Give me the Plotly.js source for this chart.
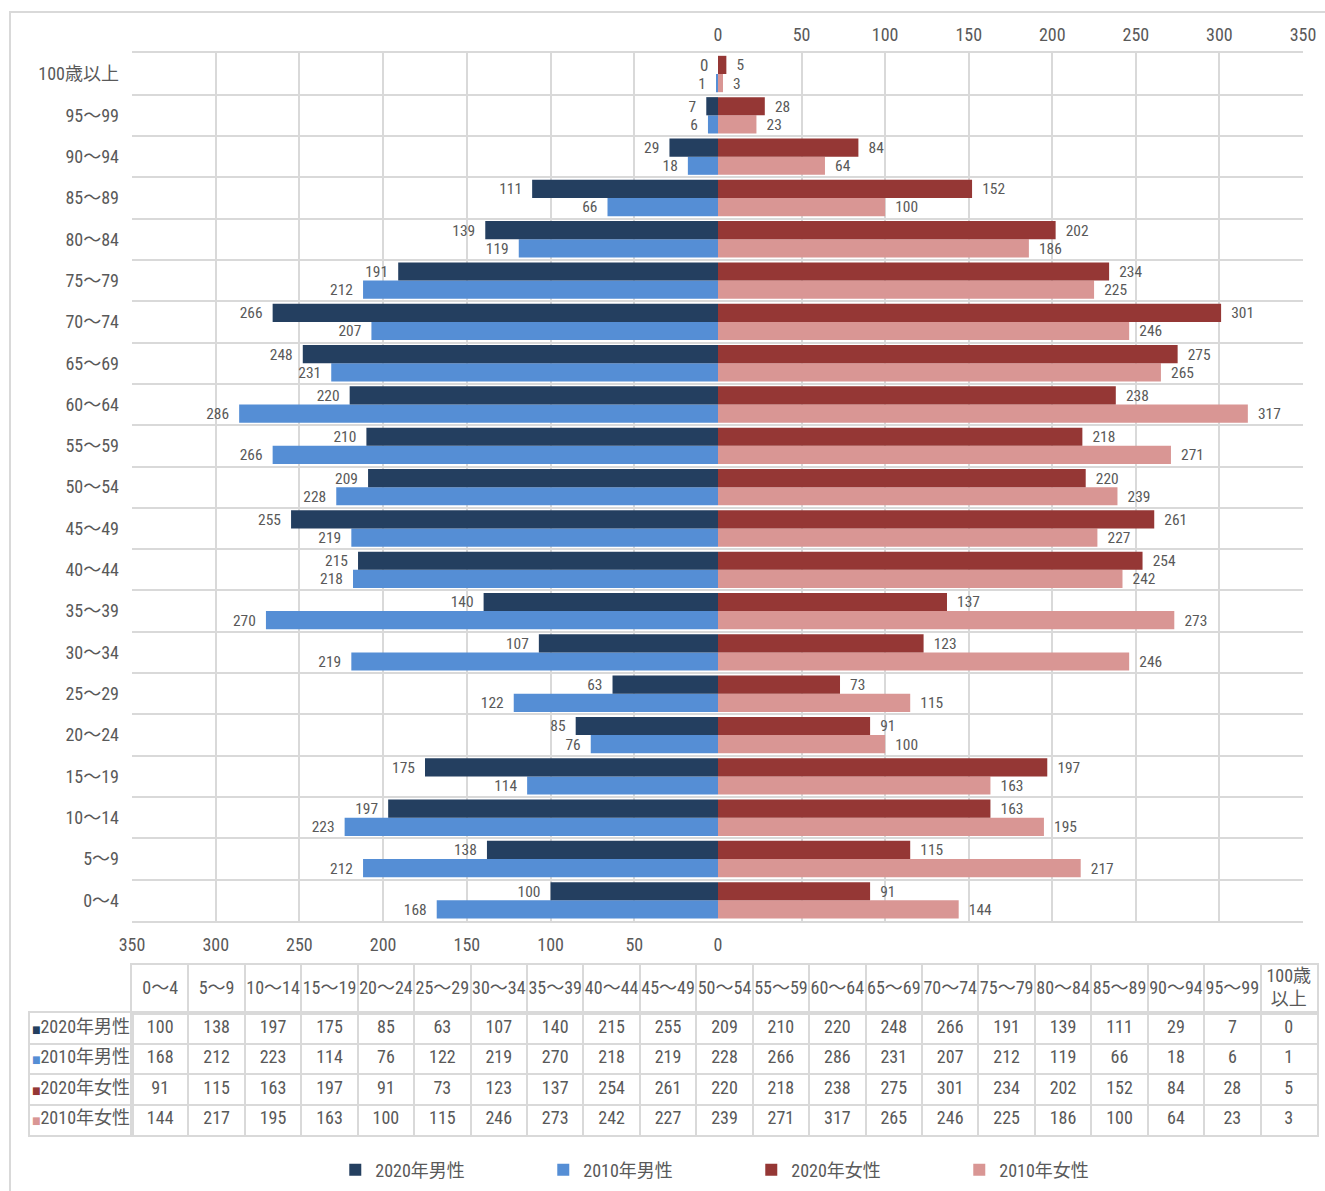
<!DOCTYPE html>
<html><head><meta charset="utf-8">
<script src="https://cdn.plot.ly/plotly-3.0.1.min.js"></script>
<style>body{margin:0;background:#fff}#c{width:1325px;height:1191px} text{font-stretch:condensed !important;}</style>
</head><body><div id="c"></div>
<script>
const categories = ['0～4','5～9','10～14','15～19','20～24','25～29','30～34','35～39','40～44','45～49','50～54','55～59','60～64','65～69','70～74','75～79','80～84','85～89','90～94','95～99','100歳以上'];
const tableHeaders = ['0～4','5～9','10～14','15～19','20～24','25～29','30～34','35～39','40～44','45～49','50～54','55～59','60～64','65～69','70～74','75～79','80～84','85～89','90～94','95～99','100歳<br>以上'];
const male2020   = [100,138,197,175,85,63,107,140,215,255,209,210,220,248,266,191,139,111,29,7,0];
const male2010   = [168,212,223,114,76,122,219,270,218,219,228,266,286,231,207,212,119,66,18,6,1];
const female2020 = [91,115,163,197,91,73,123,137,254,261,220,218,238,275,301,234,202,152,84,28,5];
const female2010 = [144,217,195,163,100,115,246,273,242,227,239,271,317,265,246,225,186,100,64,23,3];
const seriesNames = ['2020年男性','2010年男性','2020年女性','2010年女性'];
const colors = ['#243f60','#558ed5','#953735','#d99694'];

const FONT = '"Roboto Condensed", "Open Sans Condensed", "DejaVu Sans", "Noto Sans CJK JP", sans-serif';
const TXT = '#595959';
const GRID = '#d9d9d9';
const NB = '\u00a0\u00a0';

const annotations = [];
function bar(vals, name, color, xa, rank, isMale, isUpper){
  vals.forEach((v,i)=>{
    if(v===0){
      annotations.push({xref:xa, yref:'y', x:0, y:categories[i], text:String(v), showarrow:false,
        xanchor:isMale?'right':'left', xshift:isMale?-8:8, yshift:isUpper?9:-9,
        font:{family:FONT, size:17, color:TXT}});
    }
  });
  return {type:'bar', orientation:'h', y:categories, x:vals, name:name,
    xaxis:xa, yaxis:'y', legendrank:rank,
    marker:{color:color},
    text:vals.map(v=>isMale?String(v)+NB:NB+String(v)),
    textposition:vals.map(v=>v===0?'none':'outside'), cliponaxis:false,
    textfont:{family:FONT, size:17, color:TXT}, hoverinfo:'x+name'};
}

const traces = [
  bar(male2010, seriesNames[1], colors[1], 'x', 2, true, false),
  bar(male2020, seriesNames[0], colors[0], 'x', 1, true, true),
  bar(female2010, seriesNames[3], colors[3], 'x2', 4, false, false),
  bar(female2020, seriesNames[2], colors[2], 'x2', 3, false, true)
];

// ---- data table built from the same arrays ----
const allSeries = [male2020, male2010, female2020, female2010];
const HEADER_ROW = '区分';
const LABEL_COL = '系列';
const tfont = {family:FONT, size:18, color:TXT};
// header row
traces.push({type:'scatter', mode:'text', xaxis:'x4', yaxis:'y4', showlegend:false, hoverinfo:'skip',
  x:categories, y:categories.map(()=>HEADER_ROW), text:tableHeaders,
  textposition:'middle center', textfont:tfont, cliponaxis:false});
// body cells
allSeries.forEach((s,k)=>{
  traces.push({type:'scatter', mode:'text', xaxis:'x3', yaxis:'y3', showlegend:false, hoverinfo:'skip',
    x:categories, y:categories.map(()=>seriesNames[k]), text:s.map(String),
    textposition:'middle center', textfont:tfont, cliponaxis:false});
});
// row labels
traces.push({type:'scatter', mode:'text', xaxis:'x5', yaxis:'y3', showlegend:false, hoverinfo:'skip',
  x:seriesNames.map(()=>LABEL_COL), y:seriesNames,
  text:seriesNames.map((n,i)=>'<span style="font-size:10px;color:'+colors[i]+'">■</span>'+n),
  textposition:'middle center', textfont:tfont, cliponaxis:false});

const lineAx = {showline:true, linecolor:GRID, linewidth:2, mirror:'all', showgrid:true, gridcolor:GRID, gridwidth:2,
  tickson:'boundaries', ticks:'', showticklabels:false, zeroline:false, fixedrange:true, type:'category'};

const axX = {range:[350,0], domain:[132/1325, 718/1325], anchor:'y', side:'bottom',
  tickvals:[0,50,100,150,200,250,300,350], showgrid:true, gridcolor:GRID, gridwidth:2,
  zeroline:false, showline:true, linecolor:GRID, linewidth:2, mirror:true, ticks:'',
  tickfont:{family:FONT, size:18, color:TXT}, ticklabelstandoff:6, fixedrange:true};
const axX2 = {range:[0,350], domain:[718/1325, 1303/1325], anchor:'y', side:'top',
  tickvals:[0,50,100,150,200,250,300,350], showgrid:true, gridcolor:GRID, gridwidth:2,
  zeroline:false, showline:true, linecolor:GRID, linewidth:2, mirror:true, ticks:'',
  tickfont:{family:FONT, size:18, color:TXT}, ticklabelstandoff:3, fixedrange:true};

const layout = {
  width:1325, height:1191, margin:{l:0,r:0,t:0,b:0},
  paper_bgcolor:'#ffffff', plot_bgcolor:'#ffffff',
  font:{family:FONT, color:TXT},
  barmode:'group', bargap:0.12, bargroupgap:0,
  showlegend:true,
  legend:{orientation:'h', x:0.567, xanchor:'center', y:1-1170/1191, yanchor:'middle',
    entrywidth:163, entrywidthmode:'pixels', itemclick:false, itemwidth:30,
    font:{family:FONT, size:18, color:TXT}},
  xaxis:axX, xaxis2:axX2,
  yaxis:{type:'category', domain:[1-921/1191, 1-53/1191], anchor:'x', tickson:'boundaries',
    showgrid:true, gridcolor:GRID, gridwidth:2, ticks:'', ticklabelstandoff:12,
    tickfont:{family:FONT, size:18, color:TXT}, fixedrange:true, automargin:false},
  xaxis3:Object.assign({}, lineAx, {domain:[132/1325, 1317/1325], anchor:'y3',
    categoryorder:'array', categoryarray:categories, range:[-0.5, categories.length-0.5]}),
  yaxis3:Object.assign({}, lineAx, {domain:[1-1135/1191, 1-1013/1191], anchor:'x3',
    categoryorder:'array', categoryarray:seriesNames, range:[seriesNames.length-0.5, -0.5]}),
  xaxis4:Object.assign({}, lineAx, {domain:[132/1325, 1317/1325], anchor:'y4',
    categoryorder:'array', categoryarray:categories, range:[-0.5, categories.length-0.5]}),
  yaxis4:Object.assign({}, lineAx, {domain:[1-1013/1191, 1-965/1191], anchor:'x4',
    range:[-0.5, 0.5]}),
  xaxis5:Object.assign({}, lineAx, {domain:[30/1325, 132/1325], anchor:'y3', range:[-0.5, 0.5]}),
  annotations:annotations,
  shapes:[{type:'rect', xref:'paper', yref:'paper', x0:10/1325, x1:1.02, y0:-0.02, y1:1-12/1191,
    line:{color:GRID, width:2}, fillcolor:'rgba(0,0,0,0)', layer:'below'}]
};

Plotly.newPlot('c', traces, layout, {displayModeBar:false});
</script></body></html>
